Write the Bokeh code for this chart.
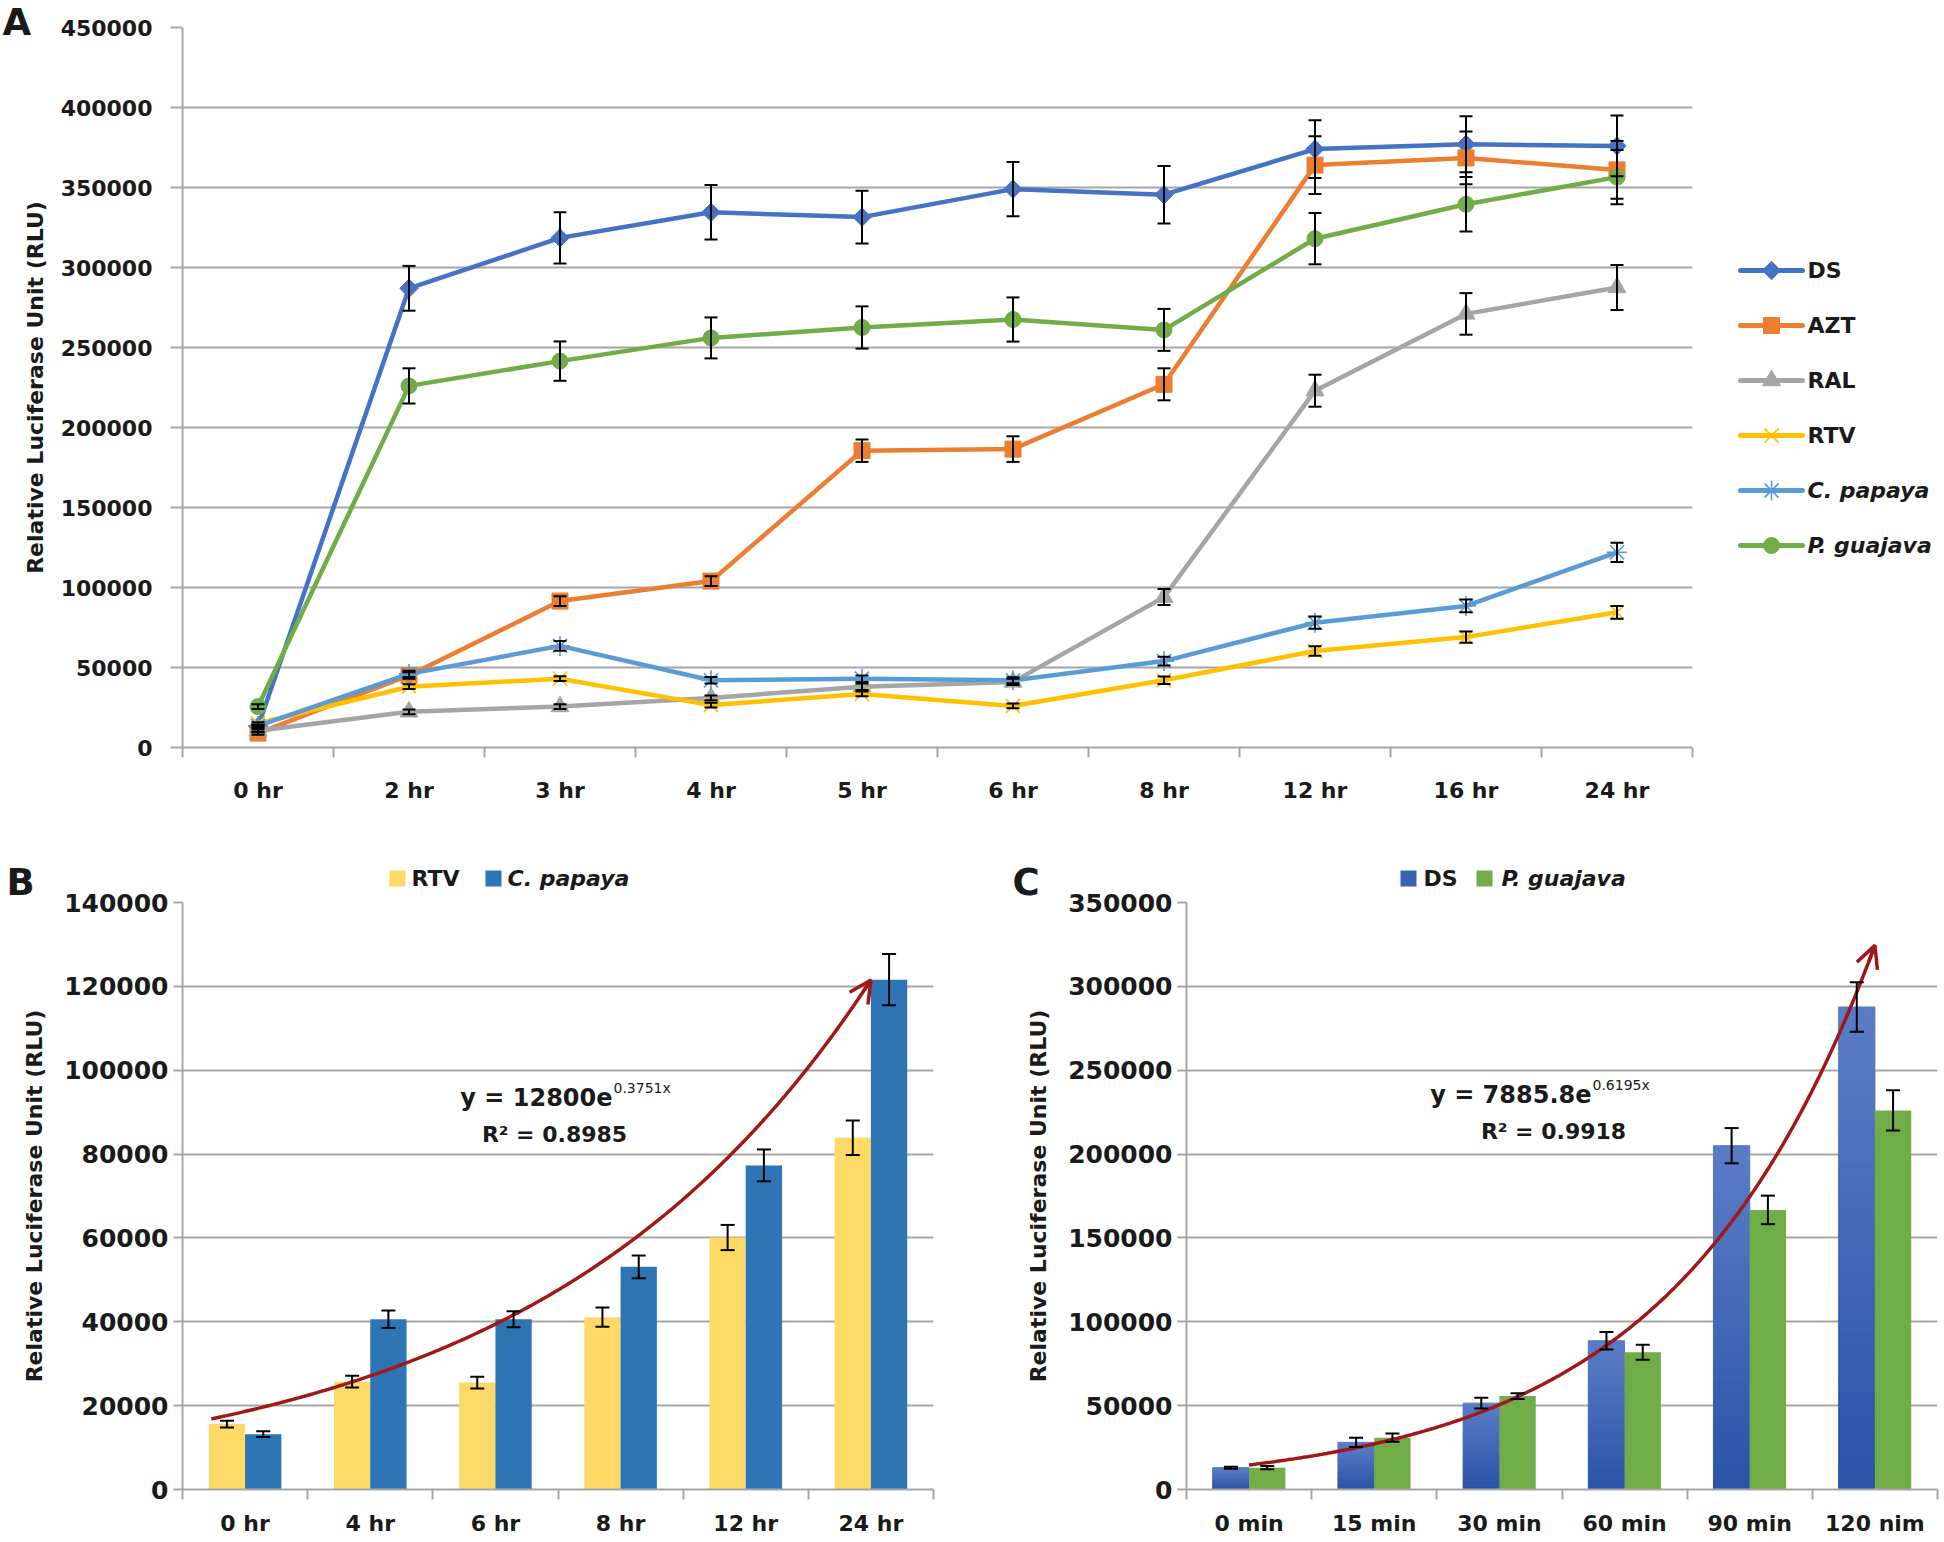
import numpy as np
from bokeh.plotting import figure
from bokeh.models import (ColumnDataSource, Whisker, TeeHead, Range1d, FixedTicker,
                          PrintfTickFormatter, Label, Arrow, OpenHead, GridBox)
from bokeh.layouts import column
from bokeh.core.properties import value
from bokeh.embed import file_html
from bokeh.resources import INLINE

FONT = "DejaVu Sans"
GRID = "#A6A6A6"
TXT = "#1a1a1a"
RED = "#A01818"

# ---------------- Panel A data ----------------
times_a = ["0 hr", "2 hr", "3 hr", "4 hr", "5 hr", "6 hr", "8 hr", "12 hr", "16 hr", "24 hr"]
ds_a = [13000, 287000, 318500, 334500, 331500, 349000, 345500, 374000, 377000, 376000]
ds_a_err = [1000, 14000, 16000, 17000, 16500, 17000, 18000, 18000, 17500, 19000]
azt_a = [9000, 45000, 91500, 104000, 185500, 186500, 227000, 364000, 368500, 361000]
azt_a_err = [1000, 2000, 3000, 3000, 7000, 8000, 10000, 18000, 16500, 18000]
ral_a = [10500, 22300, 25600, 31000, 38000, 41000, 94000, 223000, 271000, 287500]
ral_a_err = [1000, 1500, 1500, 1500, 2000, 2000, 5000, 10000, 13000, 14000]
rtv_a = [15000, 38000, 43000, 26500, 33500, 26000, 42000, 60300, 69000, 84500]
rtv_a_err = [800, 1500, 1500, 1500, 1500, 1500, 2300, 3000, 3500, 4000]
cp_a = [13500, 46000, 63500, 42000, 43000, 42000, 54000, 78000, 88500, 122000]
cp_a_err = [700, 2000, 3000, 2000, 2000, 1900, 2700, 3800, 4000, 6000]
pg_a = [25600, 226000, 241500, 256000, 262500, 267500, 261000, 318000, 339500, 356500]
pg_a_err = [1500, 11000, 12300, 12800, 13200, 13800, 13100, 16000, 17000, 17000]
yticks_a = [0, 50000, 100000, 150000, 200000, 250000, 300000, 350000, 400000, 450000]

# ---------------- Panel B data ----------------
times_b = ["0 hr", "4 hr", "6 hr", "8 hr", "12 hr", "24 hr"]
rtv_b = [15600, 25700, 25500, 41100, 60100, 83900]
rtv_b_err = [800, 1400, 1400, 2300, 3000, 4100]
cp_b = [13200, 40600, 40600, 53100, 77300, 121600]
cp_b_err = [700, 2100, 1900, 2700, 3800, 6100]
yticks_b = [0, 20000, 40000, 60000, 80000, 100000, 120000, 140000]
trend_b = (12800.0, 0.3751)
eq_b = ("y = 12800e", "0.3751x", "R² = 0.8985")
legend_b = ["RTV", "C. papaya"]

# ---------------- Panel C data ----------------
times_c = ["0 min", "15 min", "30 min", "60 min", "90 min", "120 nim"]
ds_c = [13000, 28100, 51500, 88700, 205000, 287700]
ds_c_err = [600, 2800, 3200, 5200, 10500, 14700]
pg_c = [13000, 30900, 55700, 81800, 166700, 226000]
pg_c_err = [1000, 2500, 1700, 4500, 8500, 12000]
yticks_c = [0, 50000, 100000, 150000, 200000, 250000, 300000, 350000]
trend_c = (7885.8, 0.6195)
eq_c = ("y = 7885.8e", "0.6195x", "R² = 0.9918")
legend_c = ["DS", "P. guajava"]

panel_letters = ["A", "B", "C"]


def make_fig(labels, ymax, yticks, fw, fh, bl, bt, br, bb, ylab_size, ylab_standoff,
             xlab_standoff, ytick_out, title_standoff):
    n = len(labels)
    p = figure(frame_width=fw, frame_height=fh, min_border_left=bl, min_border_top=bt,
               min_border_right=br, min_border_bottom=bb,
               x_range=Range1d(0.5, n + 0.5), y_range=Range1d(0, ymax),
               output_backend="svg", toolbar_location=None,
               background_fill_color="white", border_fill_color="white",
               outline_line_color=None)
    p.xgrid.visible = False
    p.ygrid.grid_line_color = GRID
    p.ygrid.grid_line_width = 2
    p.ygrid.ticker = FixedTicker(ticks=yticks)

    ya = p.yaxis[0]
    ya.ticker = FixedTicker(ticks=yticks)
    ya.formatter = PrintfTickFormatter(format="%d")
    ya.axis_line_color = GRID
    ya.axis_line_width = 2
    ya.major_tick_line_color = GRID
    ya.major_tick_line_width = 2
    ya.major_tick_out = ytick_out
    ya.major_tick_in = 0
    ya.minor_tick_line_color = None
    ya.major_label_text_font = FONT
    ya.major_label_text_font_size = ylab_size
    ya.major_label_text_font_style = "bold"
    ya.major_label_text_color = TXT
    ya.major_label_standoff = ylab_standoff
    ya.axis_label = "Relative Luciferase Unit (RLU)"
    ya.axis_label_text_font = FONT
    ya.axis_label_text_font_size = "22px"
    ya.axis_label_text_font_style = "bold"
    ya.axis_label_text_color = TXT
    ya.axis_label_standoff = title_standoff

    xa = p.xaxis[0]
    xa.ticker = FixedTicker(ticks=list(range(1, n + 1)),
                            minor_ticks=[i + 0.5 for i in range(n + 1)])
    xa.major_label_overrides = {i + 1: lab for i, lab in enumerate(labels)}
    xa.axis_line_color = GRID
    xa.axis_line_width = 2
    xa.major_tick_line_color = None
    xa.major_tick_out = 0
    xa.major_tick_in = 0
    xa.minor_tick_line_color = GRID
    xa.minor_tick_line_width = 2
    xa.minor_tick_out = 10
    xa.minor_tick_in = 0
    xa.major_label_text_font = FONT
    xa.major_label_text_font_size = "22px"
    xa.major_label_text_font_style = "bold"
    xa.major_label_text_color = TXT
    xa.major_label_standoff = xlab_standoff
    return p


def add_err(p, xs, vals, errs, size=14):
    src = ColumnDataSource(dict(x=xs, lo=[v - e for v, e in zip(vals, errs)],
                                hi=[v + e for v, e in zip(vals, errs)]))
    w = Whisker(source=src, base="x", lower="lo", upper="hi",
                line_color="black", line_width=2, level="annotation",
                upper_head=TeeHead(size=size, line_color="black", line_width=2),
                lower_head=TeeHead(size=size, line_color="black", line_width=2))
    p.add_layout(w)


def screen_label(p, x, y, text, size, style="bold", align="left", baseline="middle"):
    p.add_layout(Label(x=x, y=y, x_units="screen", y_units="screen", text=text,
                       text_font=FONT, text_font_size=size, text_font_style=style,
                       text_color=TXT, text_align=align, text_baseline=baseline))


def marker_kw(mk, col, sz):
    if mk in ("x", "asterisk"):
        return dict(marker=mk, size=sz, line_color=col, line_width=1.6, fill_color=None)
    if mk == "diamond":
        return dict(marker="square", angle=np.pi / 4, size=sz, fill_color=col, line_color=col)
    return dict(marker=mk, size=sz, fill_color=col, line_color=col)


# ================= Panel A =================
pA = make_fig(times_a, 450000, yticks_a, 1510, 720, 182, 27, 252, 93,
              "22px", 18, 20, 12, 10)
xa_pos = list(range(1, len(times_a) + 1))
series_a = [
    ("DS", ds_a, ds_a_err, "#4472C4", "diamond", 13),
    ("AZT", azt_a, azt_a_err, "#ED7D31", "square", 16),
    ("RAL", ral_a, ral_a_err, "#A5A5A5", "triangle", 18),
    ("RTV", rtv_a, rtv_a_err, "#FFC000", "x", 20),
    ("C. papaya", cp_a, cp_a_err, "#5B9BD5", "asterisk", 20),
    ("P. guajava", pg_a, pg_a_err, "#70AD47", "circle", 16),
]
for name, vals, errs, col, mk, sz in series_a:
    src = ColumnDataSource(dict(x=xa_pos, y=vals))
    pA.line("x", "y", source=src, line_color=col, line_width=4.5, line_join="round")
    pA.scatter("x", "y", source=src, **marker_kw(mk, col, sz))
    add_err(pA, xa_pos, vals, errs, 13)

# ================= Panel B =================
OFF = 0.145
BW = 0.29
pB = make_fig(times_b, 140000, yticks_b, 751, 587, 182, 62, 67, 53,
              "25px", 5, 11, 9, 14)
xb = list(range(1, len(times_b) + 1))
xb1 = [x - OFF for x in xb]
xb2 = [x + OFF for x in xb]
B_COLS = ["#FFD966", "#2E75B6"]
pB.vbar(x=xb1, top=rtv_b, width=BW, fill_color=B_COLS[0], line_color=None)
pB.vbar(x=xb2, top=cp_b, width=BW, fill_color=B_COLS[1], line_color=None)
add_err(pB, xb1, rtv_b, rtv_b_err)
add_err(pB, xb2, cp_b, cp_b_err)

a_b, k_b = trend_b
tx = np.linspace(0.73, 6.0, 300)
ty = a_b * np.exp(k_b * tx)
pB.line(tx, ty, line_color=RED, line_width=3.5)
pB.add_layout(Arrow(end=OpenHead(size=22, line_color=RED, line_width=3.5),
                    x_start=tx[-4], y_start=ty[-4], x_end=tx[-1], y_end=ty[-1],
                    line_color=RED, line_width=3.5))
screen_label(pB, 430, 392, eq_b[0], "24px", align="right")
screen_label(pB, 431, 402, eq_b[1], "14px", style="normal", align="left")
screen_label(pB, 372, 355, eq_b[2], "22px", align="center")

# ================= Panel C =================
pC = make_fig(times_c, 350000, yticks_c, 751, 587, 186, 62, 7, 53,
              "25px", 5, 11, 9, 14)
xc = list(range(1, len(times_c) + 1))
xc1 = [x - OFF for x in xc]
xc2 = [x + OFF for x in xc]


def lerp(c0, c1, f):
    return "#%02x%02x%02x" % tuple(int(round(a + (b - a) * f)) for a, b in zip(c0, c1))


dark = (0x2A, 0x52, 0xA6)
light = (0x5B, 0x7D, 0xC6)
NS = 40
gx, gb, gt, gc = [], [], [], []
for xpos, v in zip(xc1, ds_c):
    for k in range(NS):
        gx.append(xpos)
        gb.append(v * k / NS)
        gt.append(v * (k + 1) / NS)
        gc.append(lerp(dark, light, (k + 0.5) / NS))
pC.vbar(x="x", bottom="b", top="t", width=BW, color="c",
        source=ColumnDataSource(dict(x=gx, b=gb, t=gt, c=gc)))
C_COLS = ["#3A62B4", "#70AD47"]
pC.vbar(x=xc2, top=pg_c, width=BW, fill_color=C_COLS[1], line_color=None)
add_err(pC, xc1, ds_c, ds_c_err)
add_err(pC, xc2, pg_c, pg_c_err)

a_c, k_c = trend_c
tx = np.linspace(1.0, 6.0, 300)
ty = a_c * np.exp(k_c * tx)
pC.line(tx, ty, line_color=RED, line_width=3.5)
pC.add_layout(Arrow(end=OpenHead(size=22, line_color=RED, line_width=3.5),
                    x_start=tx[-4], y_start=ty[-4], x_end=tx[-1], y_end=ty[-1],
                    line_color=RED, line_width=3.5))
screen_label(pC, 405, 395, eq_c[0], "24px", align="right")
screen_label(pC, 406, 405, eq_c[1], "14px", style="normal", align="left")
screen_label(pC, 367, 358, eq_c[2], "22px", align="center")

# ================= Overlay: panel letters and legends (page pixels) =================
OW, OH = 1944, 1542
pO = figure(frame_width=OW, frame_height=OH, min_border=0,
            x_range=Range1d(0, OW), y_range=Range1d(OH, 0),
            x_axis_location=None, y_axis_location=None, toolbar_location=None,
            output_backend="svg", outline_line_color=None,
            background_fill_color=None, border_fill_color=None)
pO.grid.visible = False

# panel letters
pO.text(x=[2, 6, 1012], y=[22, 882, 882], text=panel_letters,
        text_font=value(FONT), text_font_size="37px", text_font_style="bold",
        text_color=TXT, text_align="left", text_baseline="middle")

# legend of panel A
rows_y = [270, 325, 380, 435, 490, 545]
for (name, vals, errs, col, mk, sz), yy in zip(series_a, rows_y):
    pO.segment(x0=[1740], y0=[yy], x1=[1802], y1=[yy], line_color=col,
               line_width=5, line_cap="round")
    pO.scatter(x=[1771], y=[yy], **marker_kw(mk, col, sz))
names_a = [s[0] for s in series_a]
pO.text(x=[1807] * 4, y=rows_y[:4], text=names_a[:4], text_font=value(FONT),
        text_font_size="22px", text_font_style="bold", text_color=TXT,
        text_baseline="middle")
pO.text(x=[1807] * 2, y=rows_y[4:], text=names_a[4:], text_font=value(FONT),
        text_font_size="22px", text_font_style="bold italic", text_color=TXT,
        text_baseline="middle")

# legends of panels B and C
pO.scatter(x=[397, 493, 1408, 1484], y=[878] * 4, marker="square", size=16,
           fill_color=B_COLS + C_COLS, line_color=None)
pO.text(x=[411, 1423], y=[878, 878], text=[legend_b[0], legend_c[0]],
        text_font=value(FONT), text_font_size="22px", text_font_style="bold",
        text_color=TXT, text_baseline="middle")
pO.text(x=[507, 1501], y=[878, 878], text=[legend_b[1], legend_c[1]],
        text_font=value(FONT), text_font_size="22px", text_font_style="bold italic",
        text_color=TXT, text_baseline="middle")

grid = GridBox(children=[(pA, 0, 0, 1, 2), (pB, 1, 0, 1, 1), (pC, 1, 1, 1, 1),
                         (column(pO), 0, 0, 2, 2)], spacing=0)
open("out.html", "w").write(file_html(grid, INLINE))
